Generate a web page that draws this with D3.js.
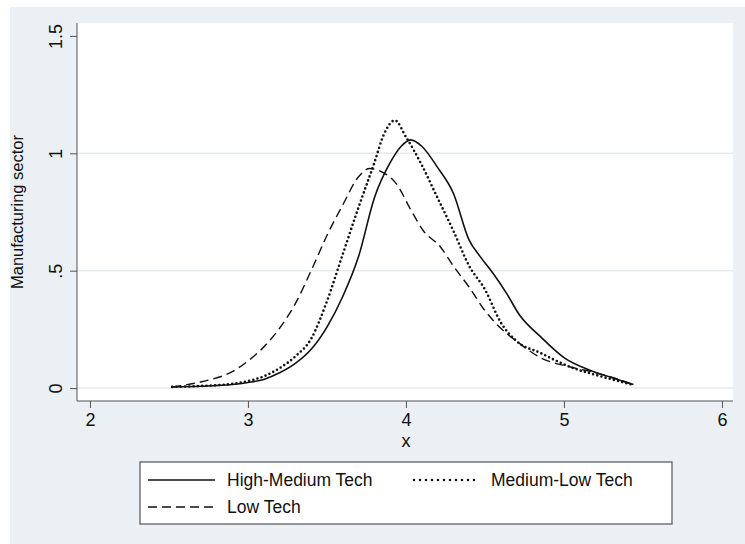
<!DOCTYPE html>
<html>
<head>
<meta charset="utf-8">
<script src="https://cdn.jsdelivr.net/npm/d3@7"></script>
<style>
  body { margin: 0; background: #fff; }
  text { font-family: "Liberation Sans", Arial, sans-serif; fill: #111; }
</style>
</head>
<body>
<svg id="svg" width="745" height="544"></svg>
<script>
// densities
var hmX = [2.52, 2.7, 2.9, 3.0, 3.1, 3.2, 3.3, 3.4, 3.5, 3.6, 3.7, 3.8, 3.9, 3.97, 4.03, 4.1, 4.2, 4.3, 4.4, 4.47, 4.55, 4.64, 4.72, 4.85, 5.0, 5.16, 5.3, 5.44]
var hmY = [0.005, 0.008, 0.015, 0.024, 0.037, 0.065, 0.105, 0.165, 0.26, 0.39, 0.56, 0.81, 0.96, 1.03, 1.057, 1.03, 0.94, 0.83, 0.63, 0.56, 0.49, 0.40, 0.31, 0.22, 0.13, 0.077, 0.045, 0.015]

var mlX = [2.52, 2.7, 2.9, 3.0, 3.1, 3.2, 3.3, 3.4, 3.5, 3.6, 3.7, 3.8, 3.86, 3.93, 4.0, 4.1, 4.2, 4.3, 4.4, 4.5, 4.6, 4.7, 4.85, 5.04, 5.25, 5.44]
var mlY = [0.005, 0.009, 0.018, 0.03, 0.05, 0.085, 0.135, 0.21, 0.37, 0.57, 0.77, 0.96, 1.08, 1.14, 1.07, 0.95, 0.81, 0.67, 0.52, 0.42, 0.28, 0.20, 0.15, 0.09, 0.047, 0.013]

var ltX = [2.52, 2.7, 2.9, 3.0, 3.1, 3.2, 3.3, 3.4, 3.5, 3.6, 3.7, 3.77, 3.85, 3.94, 4.03, 4.11, 4.22, 4.3, 4.4, 4.5, 4.6, 4.7, 4.85, 5.04, 5.21, 5.42]
var ltY = [0.005, 0.026, 0.07, 0.115, 0.175, 0.255, 0.36, 0.50, 0.65, 0.78, 0.90, 0.935, 0.92, 0.87, 0.76, 0.67, 0.60, 0.52, 0.43, 0.33, 0.255, 0.20, 0.13, 0.09, 0.064, 0.02]

var xTicks = [2, 3, 4, 5, 6]
var yTicks = [0, 0.5, 1, 1.5]
var yTickLabels = ['0', '.5', '1', '1.5']
var gridTicks = [0, 0.5, 1]

var seriesNames = ['High-Medium Tech', 'Medium-Low Tech', 'Low Tech']

var svg = d3.select('#svg')
var font = '"Liberation Sans", Arial, sans-serif'

// outer stata background
svg.append('rect')
    .attr('x', 10).attr('y', 7)
    .attr('width', 735).attr('height', 537)
    .style('fill', '#eaf0f3')

var plotL = 77, plotR = 733, plotT = 23, plotB = 401

svg.append('rect')
    .attr('x', plotL).attr('y', plotT)
    .attr('width', plotR - plotL).attr('height', plotB - plotT)
    .style('fill', '#fff')

var x = d3.scaleLinear().domain([1.918, 6.07]).range([plotL, plotR])
var y = d3.scaleLinear().domain([-0.055, 1.555]).range([plotB, plotT])

// grid
svg.selectAll('.grid')
    .data(gridTicks)
    .enter().append('line')
    .attr('class', 'grid')
    .attr('x1', plotL).attr('x2', plotR)
    .attr('y1', function(d) { return y(d) })
    .attr('y2', function(d) { return y(d) })
    .style('stroke', '#e6eaec')
    .style('stroke-width', 1.5)

// axes
var xAxis = d3.axisBottom(x).tickValues(xTicks).tickSize(7).tickPadding(5)
    .tickFormat(d3.format('d'))
var gx = svg.append('g').attr('transform', 'translate(0,' + plotB + ')').call(xAxis)
gx.select('.domain').attr('d', 'M' + plotL + ',0H' + plotR).style('stroke', '#555')
gx.selectAll('.tick line').style('stroke', '#555')
gx.selectAll('.tick text').style('font-size', '18px').style('font-family', font).style('fill', '#111')

var yAxis = d3.axisLeft(y).tickValues(yTicks).tickSize(7).tickPadding(0)
    .tickFormat(function(d, i) { return yTickLabels[i] })
var gy = svg.append('g').attr('transform', 'translate(' + plotL + ',0)').call(yAxis)
gy.select('.domain').attr('d', 'M0,' + plotT + 'V' + plotB).style('stroke', '#555')
gy.selectAll('.tick line').style('stroke', '#555')
gy.selectAll('.tick text')
    .attr('x', null).attr('dy', null)
    .attr('transform', 'translate(-15,0) rotate(-90)')
    .style('text-anchor', 'middle')
    .style('font-size', '18px')
    .style('font-family', font)
    .style('fill', '#111')

// axis titles
svg.append('text')
    .attr('x', x(4)).attr('y', 447)
    .attr('text-anchor', 'middle')
    .style('font-size', '18px')
    .text('x')

svg.append('text')
    .attr('transform', 'translate(23,' + ((plotT + plotB) / 2) + ') rotate(-90)')
    .attr('text-anchor', 'middle')
    .style('font-size', '16.5px')
    .text('Manufacturing sector')

// curves
var line = d3.line()
    .x(function(d) { return x(d[0]) })
    .y(function(d) { return y(d[1]) })
    .curve(d3.curveMonotoneX)

var styles = [
    { dash: null, width: 1.6, cap: 'butt' },
    { dash: '0,4.3', width: 2.6, cap: 'round' },
    { dash: '9,5', width: 1.4, cap: 'butt' }
]

var series = [d3.zip(hmX, hmY), d3.zip(mlX, mlY), d3.zip(ltX, ltY)]

series.forEach(function(s, i) {
    svg.append('path')
        .attr('d', line(s))
        .style('fill', 'none')
        .style('stroke', '#111')
        .style('stroke-width', styles[i].width)
        .style('stroke-linecap', styles[i].cap)
        .style('stroke-dasharray', styles[i].dash)
})

// legend
var lg = svg.append('g')
lg.append('rect')
    .attr('x', 140).attr('y', 462)
    .attr('width', 532).attr('height', 62)
    .style('fill', '#fff')
    .style('stroke', '#555')
    .style('stroke-width', 1.2)

var legendPos = [[148, 480], [412, 480], [148, 507]]
var legendDash = [null, '0,6', '9,5']

seriesNames.forEach(function(name, i) {
    var p = legendPos[i]
    lg.append('line')
        .attr('x1', p[0] + (i == 1 ? 2 : 0)).attr('x2', p[0] + 67)
        .attr('y1', p[1]).attr('y2', p[1])
        .style('stroke', '#111')
        .style('stroke-width', styles[i].width)
        .style('stroke-linecap', styles[i].cap)
        .style('stroke-dasharray', legendDash[i])
    lg.append('text')
        .attr('x', p[0] + 79).attr('y', p[1] + 6)
        .style('font-size', '17.5px')
        .text(name)
})
</script>
</body>
</html>
